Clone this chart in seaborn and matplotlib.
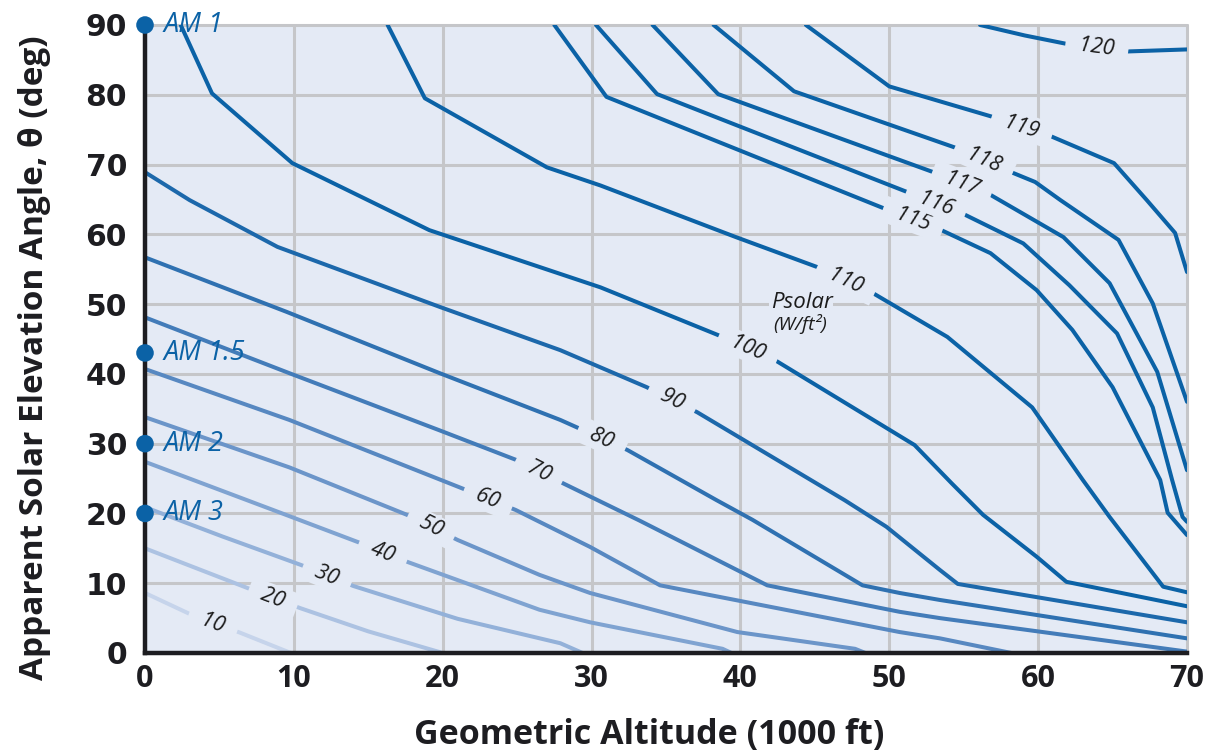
import numpy as np
import pandas as pd
import matplotlib
matplotlib.use("Agg")
import matplotlib.pyplot as plt
import seaborn as sns

# ---------------- values ----------------
# Each contour: (geometric altitude [1000 ft], solar elevation angle [deg])
contour_10 = [(0, 8.6), (3.0, 5.6), (6.4, 2.9), (9.8, 0.0)]
contour_20 = [(0, 15.0), (6.9, 9.3), (10.4, 6.45), (15.0, 3.1), (20.0, 0.0)]
contour_30 = [(0, 20.9), (5.2, 16.7), (10.5, 12.6), (14.0, 9.6), (21.0, 4.9), (27.9, 1.4), (29.4, 0.0)]
contour_40 = [(0, 27.4), (8.6, 20.5), (14.3, 15.9), (17.7, 13.0), (26.5, 6.2), (29.9, 4.4), (38.8, 0.6), (39.4, 0.0)]
contour_50 = [(0, 33.8), (9.7, 26.6), (17.6, 19.8), (21.0, 16.2), (26.5, 11.2), (29.9, 8.6), (39.8, 3.0), (47.7, 0.6), (48.4, 0.0)]
contour_60 = [(0, 40.7), (9.7, 33.4), (21.3, 23.6), (24.9, 20.5), (26.5, 18.8), (29.9, 15.2), (34.6, 9.7), (50.7, 3.0), (53.4, 2.1), (58.2, 0.0)]
contour_70 = [(0, 48.1), (9.7, 40.1), (19.8, 31.9), (24.9, 27.7), (28.2, 24.2), (33.2, 19.0), (41.8, 9.7), (50.7, 5.9), (53.4, 5.0), (70.0, 0.2)]
contour_80 = [(0, 56.7), (9.5, 48.9), (19.8, 40.1), (27.9, 33.4), (32.4, 29.1), (38.4, 21.9), (40.8, 19.1), (48.2, 9.7), (50.7, 8.6), (53.4, 7.6), (70.0, 2.1)]
contour_90 = [(0, 68.9), (3.0, 64.9), (8.9, 58.2), (19.8, 49.6), (27.9, 43.4), (33.7, 38.1), (37.1, 34.5), (47.0, 21.9), (49.8, 18.1), (53.4, 11.9), (54.6, 9.9), (70.0, 4.4)]
contour_100 = [(2.4, 90.0), (4.5, 80.2), (9.9, 70.2), (19.1, 60.6), (30.6, 52.4), (38.8, 45.3), (42.3, 42.0), (51.7, 29.8), (54.2, 24.3), (56.3, 19.8), (59.9, 13.8), (61.9, 10.2), (70.0, 6.7)]
contour_110 = [(16.3, 90.0), (18.8, 79.5), (27.0, 69.6), (30.6, 67.0), (39.7, 59.6), (45.3, 55.2), (48.8, 51.7), (53.9, 45.3), (59.6, 35.2), (63.0, 24.8), (64.8, 19.5), (68.4, 9.5), (70.0, 8.7)]
contour_115 = [(27.5, 90.0), (31.0, 79.7), (49.9, 63.5), (53.5, 60.6), (56.8, 57.3), (59.9, 52.0), (62.3, 46.3), (65.0, 38.1), (68.2, 24.8), (68.7, 20.1), (70.0, 16.9)]
contour_116 = [(30.3, 90.0), (34.4, 80.1), (51.4, 65.9), (54.9, 63.0), (59.0, 58.7), (62.1, 52.7), (65.3, 45.8), (67.7, 35.2), (69.0, 24.8), (69.7, 19.5), (70.0, 18.8)]
contour_117 = [(34.1, 90.0), (38.5, 80.1), (53.1, 68.8), (56.6, 65.9), (61.7, 59.6), (64.8, 53.0), (68.0, 40.3), (70.0, 26.2)]
contour_118 = [(38.2, 90.0), (43.6, 80.5), (54.6, 72.3), (58.2, 68.9), (59.8, 67.5), (61.5, 64.9), (65.4, 59.2), (67.7, 50.1), (70.0, 36.0)]
contour_119 = [(44.4, 90.0), (50.0, 81.2), (57.0, 76.8), (60.7, 74.2), (65.1, 70.2), (67.3, 64.9), (69.2, 60.2), (70.0, 54.6)]
contour_120 = [(56.1, 90.0), (59.1, 88.5), (61.9, 87.3), (65.9, 86.2), (70.0, 86.5)]

levels = [10, 20, 30, 40, 50, 60, 70, 80, 90, 100, 110, 115, 116, 117, 118, 119, 120]
contours = [contour_10, contour_20, contour_30, contour_40, contour_50, contour_60,
            contour_70, contour_80, contour_90, contour_100, contour_110, contour_115,
            contour_116, contour_117, contour_118, contour_119, contour_120]

# altitude at which each contour carries its inline label
label_altitude = [4.57, 8.6, 12.22, 15.98, 19.21, 23.04, 26.46, 30.69, 35.39, 40.5,
                  47.08, 51.58, 53.12, 54.87, 56.35, 58.9, 63.94]

am_names = ["AM 1", "AM 1.5", "AM 2", "AM 3"]
am_elevation = [90, 43, 30, 20]

x_ticks = [0, 10, 20, 30, 40, 50, 60, 70]
y_ticks = [0, 10, 20, 30, 40, 50, 60, 70, 80, 90]

# ---------------- styling ----------------
BG = "#e4eaf5"
GRID = "#c5c6c9"
BLUE = "#0b62a6"
INK = "#1d1d21"
line_colors = ["#c6d4eb", "#acc2e2", "#93b1d9", "#7fa3d1", "#6b95c9", "#5788c1",
               "#437cb9", "#2f71b1", "#1c68ab"] + [BLUE] * 8

sns.set_theme(style="white", rc={"axes.facecolor": BG, "figure.facecolor": "white"})
plt.rcParams["font.family"] = ["Open Sans", "DejaVu Sans"]

rows = []
for lev, pts in zip(levels, contours):
    for i, (x, y) in enumerate(pts):
        rows.append({"level": str(lev), "order": i, "x": x, "y": y})
df = pd.DataFrame(rows)
palette = {str(l): c for l, c in zip(levels, line_colors)}

fig = plt.figure(figsize=(12.06, 7.51), dpi=100)
ax = fig.add_axes([145 / 1206, 1 - 653 / 751, 1042 / 1206, 628 / 751])
ax.set_xlim(0, 70)
ax.set_ylim(0, 90)
ax.set_xticks(x_ticks)
ax.set_yticks(y_ticks)
ax.grid(True, color=GRID, linewidth=2.2)
ax.set_axisbelow(True)
for gl in ax.get_xgridlines() + ax.get_ygridlines():
    gl.set_clip_on(False)

sns.lineplot(data=df, x="x", y="y", hue="level", palette=palette, sort=False,
             estimator=None, legend=False, linewidth=2.9, ax=ax, zorder=3)

# inline contour labels with a halo that breaks the line
for lev, pts, xl in zip(levels, contours, label_altitude):
    xs = np.array([p[0] for p in pts])
    ys = np.array([p[1] for p in pts])
    yl = np.interp(xl, xs, ys)
    d = 0.7
    p1 = ax.transData.transform((xl - d, np.interp(xl - d, xs, ys)))
    p2 = ax.transData.transform((xl + d, np.interp(xl + d, xs, ys)))
    ang = np.degrees(np.arctan2(p2[1] - p1[1], p2[0] - p1[0]))
    ax.text(xl, yl, "  " + str(lev) + "  ", rotation=ang, rotation_mode="anchor",
            ha="center", va="center", fontsize=15.5, style="italic", color="#1b1b1b",
            zorder=5, bbox=dict(boxstyle="square,pad=0.12", fc=BG, ec="none"))

ax.text(44.1, 50.3, "Psolar", ha="center", va="center", fontsize=16, style="italic",
        color="#1b1b1b", zorder=5, bbox=dict(boxstyle="square,pad=0.05", fc=BG, ec="none"))
ax.text(44.0, 47.1, "(W/ft²)", ha="center", va="center", fontsize=14, style="italic",
        color="#1b1b1b", zorder=5, bbox=dict(boxstyle="square,pad=0.05", fc=BG, ec="none"))

# air-mass markers
sns.scatterplot(x=[0] * len(am_elevation), y=am_elevation, s=160, color=BLUE,
                edgecolor="none", legend=False, ax=ax, clip_on=False, zorder=7)
for name, el in zip(am_names, am_elevation):
    ax.text(1.25, el, name, ha="left", va="center", fontsize=19.5, style="italic",
            color=BLUE, zorder=7, clip_on=False)

for s in ["top", "right"]:
    ax.spines[s].set_visible(False)
for s in ["left", "bottom"]:
    ax.spines[s].set_color(INK)
    ax.spines[s].set_linewidth(3.2)
    ax.spines[s].set_zorder(6)

ax.tick_params(axis="both", length=0)
ax.tick_params(axis="y", pad=13)
ax.tick_params(axis="x", pad=8)
for lab in ax.get_yticklabels():
    lab.set_fontfamily("DejaVu Sans")
    lab.set_fontweight("bold")
    lab.set_fontsize(21.5)
    lab.set_color(INK)
for lab in ax.get_xticklabels():
    lab.set_fontfamily("Open Sans")
    lab.set_fontweight("bold")
    lab.set_fontsize(22)
    lab.set_color(INK)

ax.set_xlabel("Geometric Altitude (1000 ft)", fontsize=24.5, fontweight="bold",
              color=INK, va="center", ha="center")
ax.xaxis.set_label_coords((649 - 145) / 1042, (653 - 735) / 628)
ax.set_ylabel("Apparent Solar Elevation Angle, θ (deg)", fontsize=24, fontweight="bold",
              color=INK, va="center", ha="center")
ax.yaxis.set_label_coords((34 - 145) / 1042, (653 - 358) / 628)

fig.savefig("out.png", dpi=100)
